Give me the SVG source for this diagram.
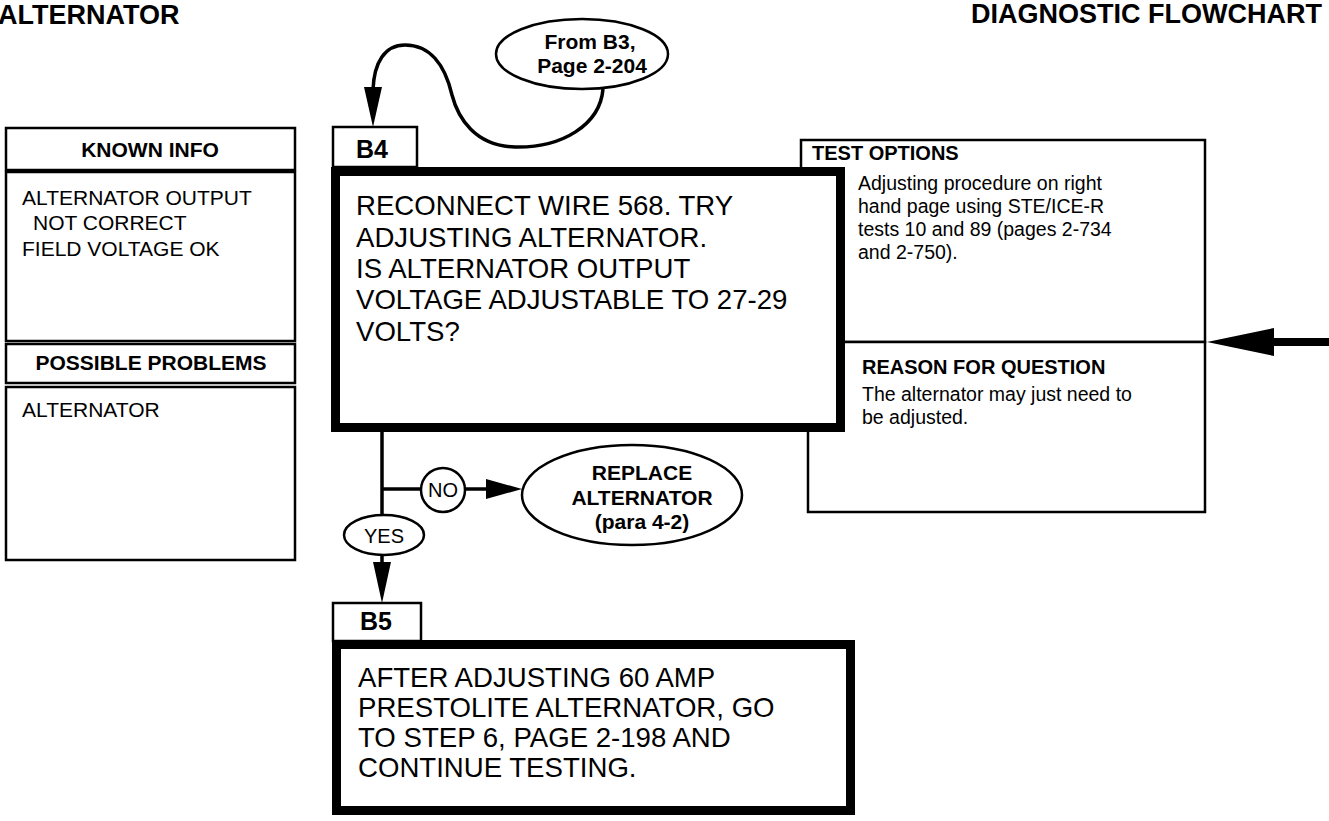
<svg xmlns="http://www.w3.org/2000/svg" width="1329" height="821" viewBox="0 0 1329 821">
<style>
  text { font-family: "Liberation Sans", Arial, Helvetica, sans-serif; fill: #000; }
  .title { font-size: 27px; font-weight: bold; }
  .hdr { font-size: 21px; font-weight: bold; }
  .body21 { font-size: 21px; }
  .tab { font-size: 25px; font-weight: bold; }
  .big { font-size: 27.6px; }
  .rhdr { font-size: 20px; font-weight: bold; }
  .rbody { font-size: 19.5px; }
  .oval { font-size: 21px; font-weight: bold; }
  .lbl { font-size: 20px; }
  .thin { fill: #fff; stroke: #000; stroke-width: 2.5; }
  .thick { fill: #fff; stroke: #000; stroke-width: 9; }
  .line { fill: none; stroke: #000; stroke-width: 3.5; }
</style>
<rect width="1329" height="821" fill="#fff"/>

<text class="title" x="-2" y="24">ALTERNATOR</text>
<text class="title" x="1322" y="23" text-anchor="end">DIAGNOSTIC FLOWCHART</text>

<g id="known-info">
  <rect class="thin" x="6" y="128" width="289" height="42"/>
  <text class="hdr" x="150" y="157" text-anchor="middle">KNOWN INFO</text>
  <rect class="thin" x="6" y="172" width="289" height="169"/>
  <text class="body21" x="22" y="205">ALTERNATOR OUTPUT</text>
  <text class="body21" x="33" y="230">NOT CORRECT</text>
  <text class="body21" x="22" y="256">FIELD VOLTAGE OK</text>
</g>

<g id="possible-problems">
  <rect class="thin" x="6" y="344" width="289" height="39"/>
  <text class="hdr" x="151" y="370" text-anchor="middle">POSSIBLE PROBLEMS</text>
  <rect class="thin" x="6" y="387" width="289" height="173"/>
  <text class="body21" x="22" y="417">ALTERNATOR</text>
</g>

<g id="test-options">
  <rect class="thin" x="801" y="140" width="404" height="202"/>
  <text class="rhdr" x="812" y="160">TEST OPTIONS</text>
  <text class="rbody" x="858" y="190">Adjusting procedure on right</text>
  <text class="rbody" x="858" y="213">hand page using STE/ICE-R</text>
  <text class="rbody" x="858" y="236">tests 10 and 89 (pages 2-734</text>
  <text class="rbody" x="858" y="259">and 2-750).</text>
</g>

<g id="reason">
  <rect class="thin" x="808" y="342" width="397" height="170"/>
  <text class="rhdr" x="862" y="374">REASON FOR QUESTION</text>
  <text class="rbody" x="862" y="401">The alternator may just need to</text>
  <text class="rbody" x="862" y="424">be adjusted.</text>
</g>

<g id="from-b3">
  <ellipse class="thin" cx="582" cy="54" rx="86" ry="35"/>
  <text class="oval" x="590" y="49" text-anchor="middle">From B3,</text>
  <text class="oval" x="592" y="73" text-anchor="middle">Page 2-204</text>
</g>

<g id="b4">
  <rect class="thin" x="333" y="127" width="84" height="40"/>
  <text class="tab" x="356" y="158">B4</text>
  <rect class="thick" x="335.5" y="171.5" width="505" height="256"/>
  <text class="big" x="356" y="215">RECONNECT WIRE 568. TRY</text>
  <text class="big" x="356" y="247">ADJUSTING ALTERNATOR.</text>
  <text class="big" x="356" y="278">IS ALTERNATOR OUTPUT</text>
  <text class="big" x="356" y="309">VOLTAGE ADJUSTABLE TO 27-29</text>
  <text class="big" x="356" y="341">VOLTS?</text>
</g>

<g id="replace">
  <ellipse class="thin" cx="632" cy="495" rx="110" ry="50"/>
  <text class="oval" x="642" y="480" text-anchor="middle">REPLACE</text>
  <text class="oval" x="642" y="505" text-anchor="middle">ALTERNATOR</text>
  <text class="oval" x="642" y="529" text-anchor="middle">(para 4-2)</text>
</g>

<g id="b5">
  <rect class="thin" x="333" y="603" width="88" height="38"/>
  <text class="tab" x="360" y="630">B5</text>
  <rect class="thick" x="336.5" y="644.5" width="514" height="166"/>
  <text class="big" x="358" y="687">AFTER ADJUSTING 60 AMP</text>
  <text class="big" x="358" y="717">PRESTOLITE ALTERNATOR, GO</text>
  <text class="big" x="358" y="747">TO STEP 6, PAGE 2-198 AND</text>
  <text class="big" x="358" y="777">CONTINUE TESTING.</text>
</g>

<g id="connectors">
  <path class="line" d="M 603 89 C 600 125 562 148 515 147 C 475 146 458 118 452 95 C 445 65 430 45 405 45 C 385 45 374 62 373 90"/>
  <polygon points="373,127 364,87 382,87" fill="#000"/>

  <line class="line" x1="382" y1="430" x2="382" y2="515"/>
  <line class="line" x1="382" y1="489" x2="421" y2="489"/>
  <line class="line" x1="465" y1="489" x2="490" y2="489"/>
  <polygon points="522,489 486,479 486,499" fill="#000"/>
  <line class="line" x1="382" y1="555" x2="382" y2="566"/>
  <polygon points="382,603 373,562 391,562" fill="#000"/>

  <line x1="1270" y1="342" x2="1329" y2="342" stroke="#000" stroke-width="8"/>
  <polygon points="1207,342 1274,328 1274,356" fill="#000"/>
</g>

<g id="no-label">
  <circle class="thin" cx="443" cy="490" r="22"/>
  <text class="lbl" x="443" y="497" text-anchor="middle">NO</text>
</g>
<g id="yes-label">
  <ellipse class="thin" cx="384" cy="535" rx="40" ry="20"/>
  <text class="lbl" x="384" y="543" text-anchor="middle">YES</text>
</g>
</svg>
